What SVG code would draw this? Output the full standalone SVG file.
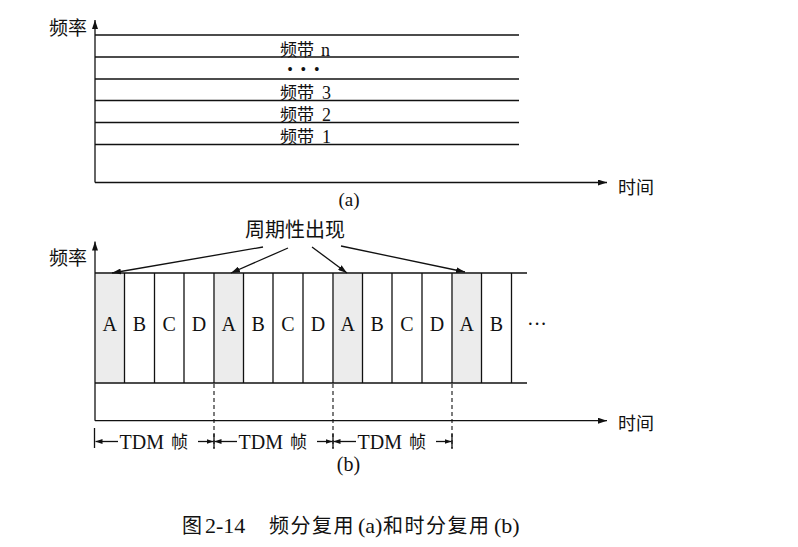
<svg xmlns="http://www.w3.org/2000/svg" width="798" height="547" viewBox="0 0 798 547">
  <style>
    .ln { stroke: #111; stroke-width: 1.3; fill: none; }
    .dash { stroke: #111; stroke-width: 1.1; fill: none; stroke-dasharray: 4 3; }
    .cjk { font-family: "Noto Sans CJK SC", "Noto Sans", sans-serif; fill: #111; }
    .lat { font-family: "Liberation Serif", "Times New Roman", serif; fill: #111; }
    .cell { font-family: "Liberation Serif", "Times New Roman", serif; font-size: 20px; fill: #111; text-anchor: middle; }
    .slotA { fill: #ececec; }
  </style>
  <defs>
    <marker id="ah" markerWidth="9" markerHeight="6" refX="9" refY="3" orient="auto" markerUnits="userSpaceOnUse">
      <path d="M0,0 L9,3 L0,6 Z" fill="#111"/>
    </marker>
    <marker id="ahs" markerWidth="7" markerHeight="5" refX="7" refY="2.5" orient="auto" markerUnits="userSpaceOnUse">
      <path d="M0,0 L7,2.5 L0,5 Z" fill="#111"/>
    </marker>
  </defs>
  <rect width="798" height="547" fill="#fff"/>

  <!-- (a) frequency division multiplexing -->
  <g id="fdm">
    <g id="fdm-axes">
      <line class="ln" x1="95" y1="182.5" x2="95" y2="20" marker-end="url(#ah)"/>
      <line class="ln" x1="95" y1="182.5" x2="607" y2="182.5" marker-end="url(#ah)"/>
      <text class="cjk" x="49" y="35" font-size="19">频率</text>
      <text class="cjk" x="618" y="194" font-size="18">时间</text>
      <text class="lat" x="349" y="206" font-size="19" text-anchor="middle">(a)</text>
    </g>
    <g id="bands">
      <line class="ln" x1="95" y1="35" x2="519" y2="35"/>
      <line class="ln" x1="95" y1="57" x2="519" y2="57"/>
      <line class="ln" x1="95" y1="79" x2="519" y2="79"/>
      <line class="ln" x1="95" y1="100.5" x2="519" y2="100.5"/>
      <line class="ln" x1="95" y1="122.5" x2="519" y2="122.5"/>
      <line class="ln" x1="95" y1="144.5" x2="519" y2="144.5"/>
    </g>
    <g id="band-n"><text class="cjk" x="280" y="55.5" font-size="17">频带<tspan class="lat" x="321" font-size="18">n</tspan></text></g>
    <g id="band-dots"><text class="lat" x="290 303.3 316.7" y="75" font-size="16" text-anchor="middle">•••</text></g>
    <g id="band-3"><text class="cjk" x="280" y="99" font-size="17">频带<tspan class="lat" x="322" font-size="18">3</tspan></text></g>
    <g id="band-2"><text class="cjk" x="280" y="121" font-size="17">频带<tspan class="lat" x="322" font-size="18">2</tspan></text></g>
    <g id="band-1"><text class="cjk" x="280" y="143" font-size="17">频带<tspan class="lat" x="322" font-size="18">1</tspan></text></g>
  </g>

  <!-- (b) time division multiplexing -->
  <g id="tdm">
    <g id="tdm-slots">
      <rect class="slotA" x="95.7" y="273.7" width="28.8" height="108.6"/>
      <rect class="slotA" x="214.7" y="273.7" width="28.8" height="108.6"/>
      <rect class="slotA" x="333.7" y="273.7" width="28.8" height="108.6"/>
      <rect class="slotA" x="452.7" y="273.7" width="28.8" height="108.6"/>
      <line class="ln" x1="95" y1="273" x2="527" y2="273"/>
      <line class="ln" x1="95" y1="383" x2="527" y2="383"/>
      <path class="ln" d="M124.5,273V383 M154.5,273V383 M184,273V383 M214,273V383 M243.5,273V383 M273,273V383 M303,273V383 M333,273V383 M362.5,273V383 M392,273V383 M422,273V383 M452,273V383 M481.5,273V383 M511.5,273V383"/>
      <text class="cell" y="331"><tspan x="109.75">A</tspan><tspan x="139.5">B</tspan><tspan x="169.25">C</tspan><tspan x="199">D</tspan><tspan x="228.75">A</tspan><tspan x="258.25">B</tspan><tspan x="288">C</tspan><tspan x="318">D</tspan><tspan x="347.75">A</tspan><tspan x="377.25">B</tspan><tspan x="407">C</tspan><tspan x="437">D</tspan><tspan x="466.75">A</tspan><tspan x="496.5">B</tspan></text>
      <text class="lat" x="527" y="331" font-size="20">···</text>
    </g>
    <g id="tdm-axes">
      <line class="ln" x1="95" y1="420.7" x2="95" y2="241.5" marker-end="url(#ah)"/>
      <line class="ln" x1="95" y1="420.7" x2="607" y2="420.7" marker-end="url(#ah)"/>
      <text class="cjk" x="49" y="265" font-size="19">频率</text>
      <text class="cjk" x="618" y="430" font-size="18">时间</text>
      <text class="lat" x="348.5" y="471" font-size="20" text-anchor="middle">(b)</text>
    </g>
    <g id="periodic-label">
      <text class="cjk" x="245" y="236.5" font-size="20">周期性出现</text>
    </g>
    <g id="frame-1">
      <text class="lat" x="119.5" y="448.5" font-size="20">TDM</text>
      <text class="cjk" x="171" y="448" font-size="17">帧</text>
    </g>
    <g id="frame-2">
      <text class="lat" x="238.5" y="448.5" font-size="20">TDM</text>
      <text class="cjk" x="290" y="448" font-size="17">帧</text>
    </g>
    <g id="frame-3">
      <text class="lat" x="357.5" y="448.5" font-size="20">TDM</text>
      <text class="cjk" x="409" y="448" font-size="17">帧</text>
    </g>
  </g>

  <!-- connectors: periodic pointers, frame boundaries and frame-span arrows -->
  <g id="connectors">
    <line class="ln" x1="263" y1="247" x2="112" y2="273" marker-end="url(#ah)"/>
    <line class="ln" x1="288" y1="248" x2="231" y2="273" marker-end="url(#ah)"/>
    <line class="ln" x1="312" y1="247" x2="347" y2="273" marker-end="url(#ah)"/>
    <line class="ln" x1="341" y1="246" x2="465" y2="272" marker-end="url(#ah)"/>

    <line class="dash" x1="214" y1="384" x2="214" y2="448"/>
    <line class="dash" x1="333" y1="384" x2="333" y2="448"/>
    <line class="dash" x1="452" y1="384" x2="452" y2="448"/>
    <line class="ln" x1="94.5" y1="428" x2="94.5" y2="448"/>
    <path class="ln" d="M214,434V449 M333,434V449 M452,434V449"/>

    <line class="ln" x1="118" y1="441.5" x2="95.5" y2="441.5" marker-end="url(#ahs)"/>
    <line class="ln" x1="198" y1="441.5" x2="213.5" y2="441.5" marker-end="url(#ahs)"/>
    <line class="ln" x1="237" y1="441.5" x2="214.5" y2="441.5" marker-end="url(#ahs)"/>
    <line class="ln" x1="317" y1="441.5" x2="332.5" y2="441.5" marker-end="url(#ahs)"/>
    <line class="ln" x1="356" y1="441.5" x2="333.5" y2="441.5" marker-end="url(#ahs)"/>
    <line class="ln" x1="436" y1="441.5" x2="451.5" y2="441.5" marker-end="url(#ahs)"/>
  </g>

  <!-- figure caption -->
  <g id="caption">
    <text class="cjk" y="533" font-size="20"><tspan x="182">图</tspan><tspan class="lat" x="205" font-size="22">2-14</tspan><tspan x="269" letter-spacing="1.5">频分复用</tspan><tspan class="lat" x="358" font-size="22">(a)</tspan><tspan x="383" letter-spacing="1.5">和时分复用</tspan><tspan class="lat" x="494" font-size="22">(b)</tspan></text>
  </g>
</svg>
